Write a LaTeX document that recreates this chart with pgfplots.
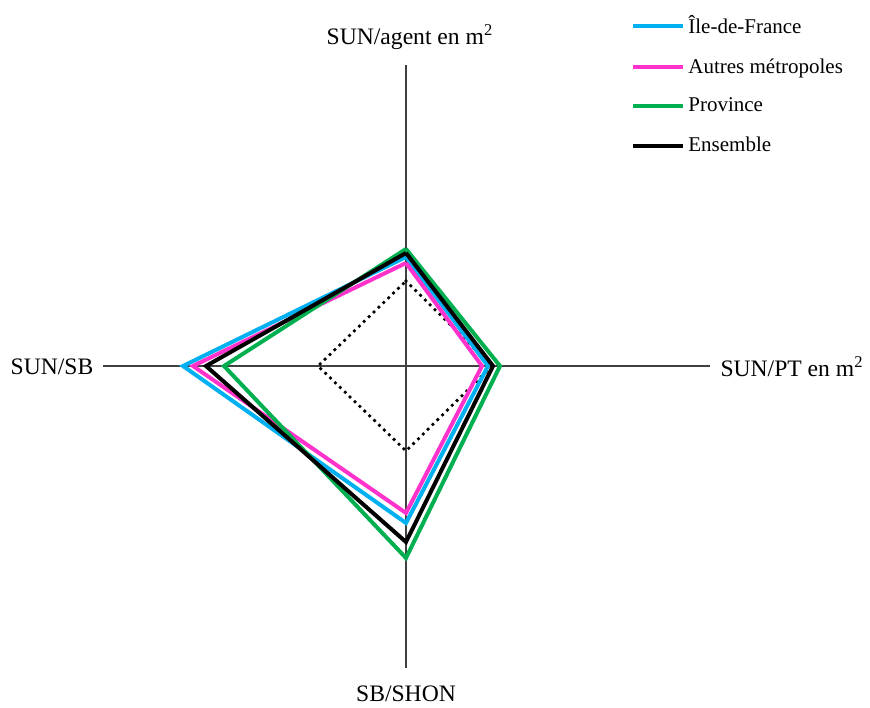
\documentclass[border=0pt]{standalone}
\usepackage{fontspec}
\setmainfont{Liberation Serif}
\usepackage{pgfplots}
\pgfplotsset{compat=1.18}

\definecolor{idf}{RGB}{0,176,240}
\definecolor{metro}{RGB}{255,51,204}
\definecolor{prov}{RGB}{0,176,80}

\begin{document}
\begin{tikzpicture}[lbl/.style={font=\fontsize{11.8}{13}\selectfont, inner sep=0pt}]
\begin{axis}[
  x=0.5pt, y=0.5pt,
  xmin=-406, xmax=464,
  ymin=-341, ymax=366,
  hide axis,
  clip=false,
  legend cell align=left,
  legend style={at={(axis cs:225,355)}, anchor=north west, draw=none, fill=none,
    font=\fontsize{10.5}{12}\selectfont, row sep=7pt, inner sep=0pt,
    /tikz/every even column/.append style={column sep=0pt},
    nodes={inner xsep=1.5pt}},
  legend image code/.code={\draw[#1] (0pt,0pt) -- (25pt,0pt);},
  every axis plot/.append style={line join=miter, miter limit=20},
]
% axes of the radar
\addplot[black!75, line width=0.6pt, forget plot] coordinates {(0,-302) (0,301)};
\addplot[black!75, line width=0.6pt, forget plot] coordinates {(-303,0) (304,0)};

% reference
\addplot[black, line width=1.9pt, line cap=round, dash pattern=on 0pt off 3.4pt, forget plot]
  coordinates {(0,85) (86,0) (0,-85) (-88,0) (0,85)};

\addplot[idf, line width=2pt] coordinates {(0,109) (82,0) (0,-157) (-223,0) (0,109)};
\addlegendentry{Île-de-France}
\addplot[metro, line width=2pt] coordinates {(0,103) (76,0) (0,-147) (-213,0) (0,103)};
\addlegendentry{Autres métropoles}
\addplot[prov, line width=2pt] coordinates {(0,117) (94,0) (0,-192) (-182,0) (0,117)};
\addlegendentry{Province}
\addplot[black, line width=2pt] coordinates {(0,113) (87,0) (0,-176) (-200,0) (0,113)};
\addlegendentry{Ensemble}

\node[lbl] at (axis cs:4,329) {SUN/agent en m\textsuperscript{2}};
\node[lbl] at (axis cs:-354,-1) {SUN/SB};
\node[lbl] at (axis cs:386,-1) {SUN/PT en m\textsuperscript{2}};
\node[lbl] at (axis cs:0,-328) {SB/SHON};
\end{axis}
\pgfresetboundingbox
\path (current axis.south west) rectangle (current axis.north east);
\end{tikzpicture}
\end{document}
